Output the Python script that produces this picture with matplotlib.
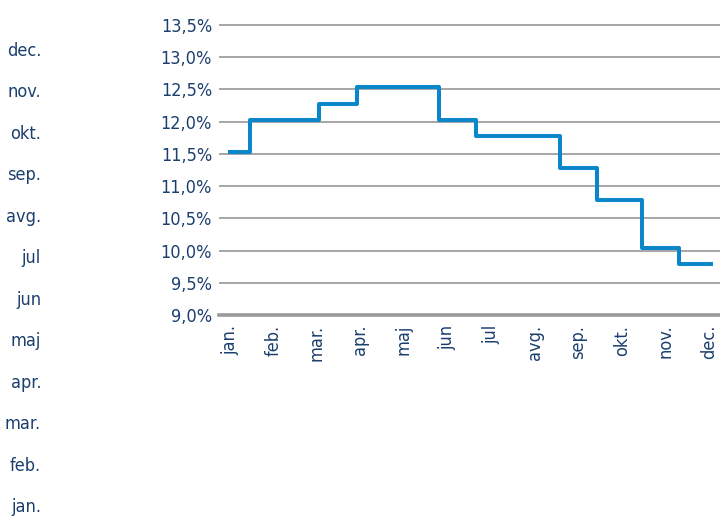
import matplotlib
matplotlib.use('Agg')
import matplotlib.pyplot as plt
import numpy as np

# ── Data ──────────────────────────────────────────────────────────────────────
months = ['jan.', 'feb.', 'mar.', 'apr.', 'maj', 'jun',
          'jul', 'avg.', 'sep.', 'okt.', 'nov.', 'dec.']
# change points (in month units from start of jan.) and rate after each change
step_x = [0.0, 0.46, 2.05, 2.92, 4.80, 5.66, 7.59, 8.44, 9.47, 10.32, 11.05]
rate   = [11.53, 12.03, 12.27, 12.53, 12.03, 11.78, 11.28, 10.79, 10.04, 9.79, 9.79]
y_ticks = np.arange(9.0, 13.51, 0.5)

NAVY = '#1B3F6E'
BLUE = '#0A87CA'
GRID = '#A6A6A6'
plt.rcParams['font.family'] = 'DejaVu Sans'
plt.rcParams['font.stretch'] = 'condensed'
FS = 13

fig = plt.figure(figsize=(7.2, 5.16), dpi=100)

# ── Main step chart ──────────────────────────────────────────────────────────
ax = fig.add_axes([219 / 720, 1 - 315 / 516, 1 - 219 / 720, (315 - 23) / 516])
ax.step(step_x, rate, where='post', color=BLUE, linewidth=2.9, zorder=3)

ax.set_ylim(9.0, 13.53)
ax.set_yticks(y_ticks)
ax.yaxis.set_major_formatter(plt.FuncFormatter(lambda v, _: f'{v:.1f}%'.replace('.', ',')))
ax.set_xlim(-0.25, 11.26)
ax.set_xticks(range(len(months)))
ax.set_xticklabels(months, rotation=90, va='top', ha='center')

ax.tick_params(axis='both', length=0, labelsize=FS, labelcolor=NAVY)
ax.tick_params(axis='y', pad=5)
ax.tick_params(axis='x', pad=7)
ax.yaxis.grid(True, color=GRID, linewidth=1.4)
ax.set_axisbelow(True)
for s in ['top', 'right', 'left']:
    ax.spines[s].set_visible(False)
ax.spines['bottom'].set_color('#999999')
ax.spines['bottom'].set_linewidth(2.6)

# ── Left month column ────────────────────────────────────────────────────────
ax2 = fig.add_axes([41 / 720, 0, 0.001, (516 - 28.3) / 516])
ax2.set_ylim(-0.265, 11.5)
ax2.set_yticks(range(len(months)))
ax2.set_yticklabels(months)
ax2.set_xticks([])
ax2.tick_params(axis='y', length=0, pad=0, labelsize=FS, labelcolor=NAVY)
for s in ax2.spines.values():
    s.set_visible(False)
ax2.patch.set_visible(False)

plt.savefig('out.png', dpi=100)
plt.close()
